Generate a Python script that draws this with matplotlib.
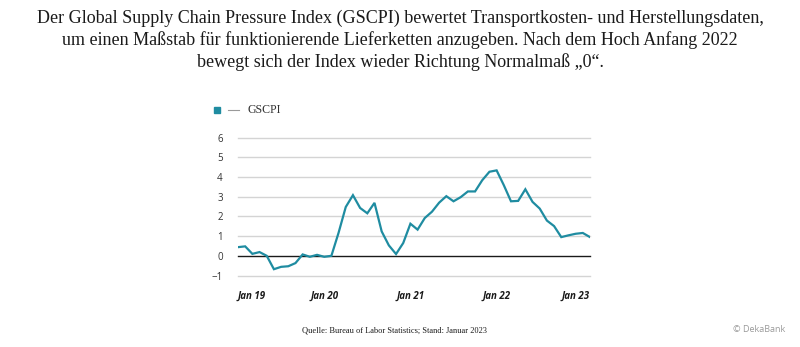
import matplotlib
matplotlib.use("Agg")
import matplotlib.pyplot as plt
from matplotlib.lines import Line2D
from matplotlib.patches import Rectangle

# Monthly GSCPI values, Dec 2018 .. Jan 2023
gscpi = [0.44, 0.48, 0.10, 0.19, 0.00, -0.68, -0.56, -0.53, -0.37, 0.07,
         -0.05, 0.05, -0.05, 0.00, 1.17, 2.48, 3.08, 2.43, 2.16, 2.69,
         1.24, 0.53, 0.09, 0.65, 1.63, 1.33, 1.92, 2.24, 2.70, 3.03,
         2.77, 2.98, 3.27, 3.27, 3.84, 4.27, 4.34, 3.59, 2.77, 2.79,
         3.38, 2.74, 2.40, 1.79, 1.51, 0.95, 1.04, 1.12, 1.16, 0.95]
x_labels = ["Jan 19", "Jan 20", "Jan 21", "Jan 22", "Jan 23"]
x_label_pos = [0, 12, 24, 36, 49]
y_ticks = [-1, 0, 1, 2, 3, 4, 5, 6]

TEAL = "#1f8ca1"
SERIF = "Liberation Serif"
SANS = "Open Sans"

W, H = 800, 347
fig = plt.figure(figsize=(W / 100, H / 100), dpi=100)
fig.patch.set_facecolor("white")

# axes placed by pixel box: x 238..590, y(6)=137.7, y(-1)=275.5
ax = fig.add_axes([238 / W, 1 - 275.5 / H, (590 - 238) / W, (275.5 - 137.7) / H])
ax.set_xlim(0, len(gscpi) - 1)
ax.set_ylim(-1, 6)
for s in ax.spines.values():
    s.set_visible(False)

for v in y_ticks:
    if v == 0:
        continue
    ax.axhline(v, color="#d4d4d4", lw=1.0, zorder=1, clip_on=False)
ax.axhline(0, color="#1a1a1a", lw=1.0, zorder=2, clip_on=False)

ax.plot(range(len(gscpi)), gscpi, color=TEAL, lw=1.6, zorder=3,
        solid_joinstyle="miter")

ax.set_yticks(y_ticks)
ax.set_yticklabels(["\u22121" if v < 0 else str(v) for v in y_ticks],
                   fontsize=7, color="#333333", family=SANS)
ax.tick_params(axis="y", length=0, pad=11)

ax.set_xticks(x_label_pos)
ax.set_xticklabels(x_labels, fontsize=7, fontweight="bold", fontstyle="italic",
                   family=SANS, color="#1a1a1a")
ax.tick_params(axis="x", length=0, pad=11)
xt = ax.get_xticklabels()
xt[0].set_ha("left")
xt[-1].set_ha("right")

# title
title = ("Der Global Supply Chain Pressure Index (GSCPI) bewertet Transportkosten- und Herstellungsdaten,\n"
         "um einen Maßstab für funktionierende Lieferketten anzugeben. Nach dem Hoch Anfang 2022\n"
         "bewegt sich der Index wieder Richtung Normalmaß \u201e0\u201c.")
fig.text(0.5, 1 - 10 / H, title, ha="center", va="top", fontsize=13,
         family=SERIF, color="#1a1a1a", linespacing=1.3)

# legend
fig.patches.append(Rectangle((214 / W, 1 - 113 / H), 6 / W, 6 / H,
                             transform=fig.transFigure, color=TEAL))
fig.lines.append(Line2D([228 / W, 239 / W], [1 - 110 / H, 1 - 110 / H],
                        transform=fig.transFigure, color="#9a9a9a", lw=0.8))
fig.text(248 / W, 1 - 110 / H, "GSCPI", ha="left", va="center", fontsize=8.6,
         family=SERIF, color="#333333")

# footer
fig.text(395 / W, 1 - 330 / H, "Quelle: Bureau of Labor Statistics; Stand: Januar 2023",
         ha="center", va="center", fontsize=6, family=SERIF, color="#1a1a1a")
fig.text(785 / W, 1 - 330 / H, "\u00a9 DekaBank", ha="right", va="center",
         fontsize=6.5, family=SANS, color="#9a9a9a")

fig.savefig("out.png", dpi=100, facecolor="white")
